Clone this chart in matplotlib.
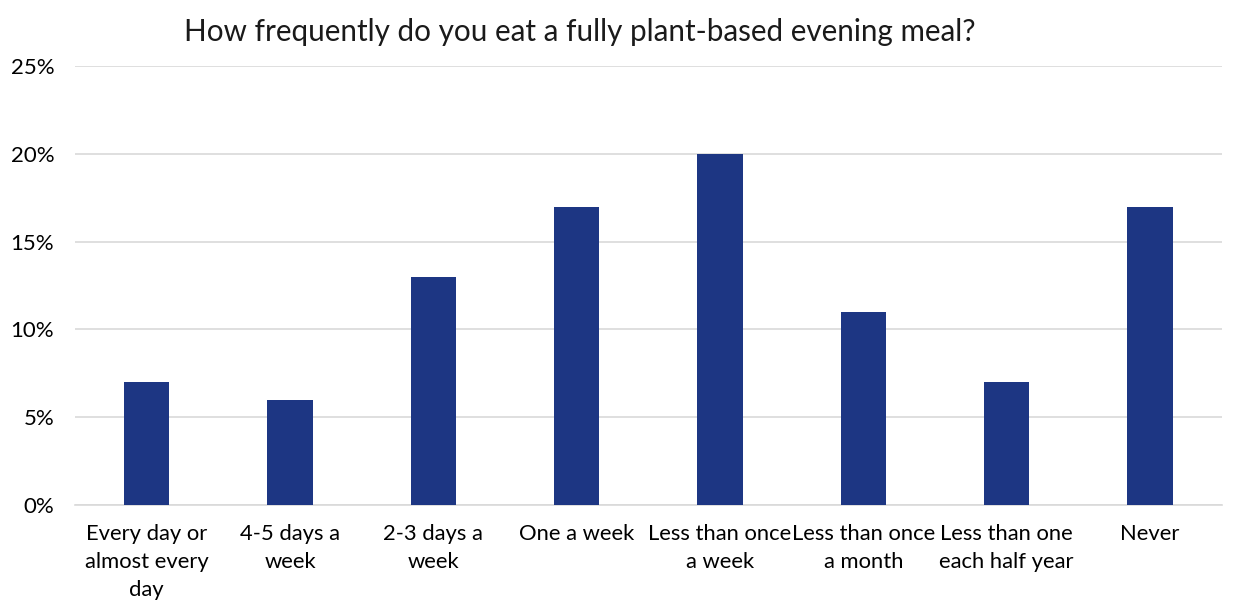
import numpy as np
import matplotlib.pyplot as plt
from matplotlib.ticker import PercentFormatter

# Survey answers and share of respondents (%)
categories = [
    'Every day or\nalmost every\nday',
    '4-5 days a\nweek',
    '2-3 days a\nweek',
    'One a week',
    'Less than once\na week',
    'Less than once\na month',
    'Less than one\neach half year',
    'Never',
]
shares = [7, 6, 13, 17, 20, 11, 7, 17]

plt.rcParams['font.family'] = ['Lato', 'DejaVu Sans']

fig = plt.figure(figsize=(12.37, 6.03), dpi=100)
ax = fig.add_axes([0.0606, 0.1625, 0.927, 0.728])

x = np.arange(len(categories))
ax.bar(x, shares, width=0.315, color='#1d3683', zorder=3)

ax.set_xlim(-0.5, len(categories) - 0.5)
ax.set_ylim(0, 25)
ax.set_yticks(np.arange(0, 26, 5))
ax.yaxis.set_major_formatter(PercentFormatter(decimals=0))
ax.set_xticks(x)
ax.set_xticklabels(categories, fontsize=15.8, linespacing=1.5)
ax.tick_params(axis='y', labelsize=16, length=0, pad=15)
ax.tick_params(axis='x', length=0, pad=14)

ax.grid(axis='y', color='#d9d9d9', linewidth=1.2, zorder=0)
for side in ['top', 'right', 'left']:
    ax.spines[side].set_visible(False)
ax.spines['bottom'].set_color('#d9d9d9')
ax.spines['bottom'].set_linewidth(1.2)

fig.text(0.469, 0.947, 'How frequently do you eat a fully plant-based evening meal?',
         ha='center', va='center', fontsize=21.3, color='#1a1a1a')

fig.savefig('out.png', dpi=100)
